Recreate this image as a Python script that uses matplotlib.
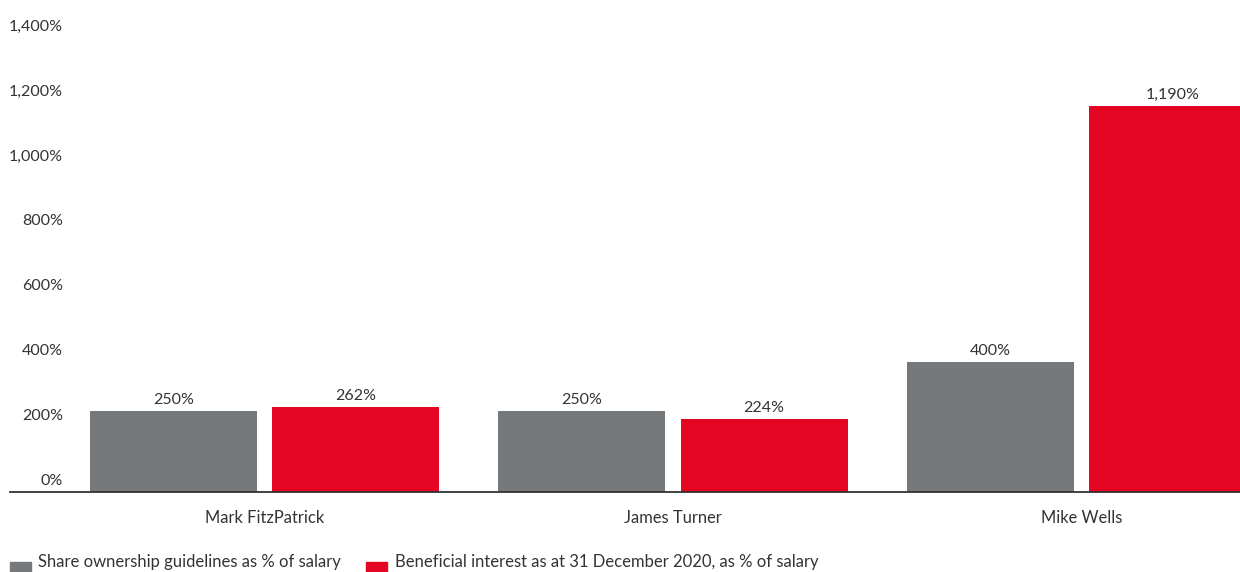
import numpy as np
import matplotlib.pyplot as plt
from matplotlib.patches import Rectangle
from matplotlib.transforms import blended_transform_factory, offset_copy

# --- Data ---
directors = ["Mark FitzPatrick", "James Turner", "Mike Wells"]
guideline_pct = [250, 250, 400]
interest_pct = [262, 224, 1190]
guideline_labels = ["250%", "250%", "400%"]
interest_labels = ["262%", "224%", "1,190%"]
y_ticks = [0, 200, 400, 600, 800, 1000, 1200, 1400]
legend_labels = ["Share ownership guidelines as % of salary",
                 "Beneficial interest as at 31 December 2020, as % of salary"]

GREY = "#75797c"
RED = "#e30521"
TEXT = "#333333"

plt.rcParams["font.family"] = ["Lato", "DejaVu Sans"]

fig = plt.figure(figsize=(12.4, 5.72), dpi=100)
ax = fig.add_axes([10 / 1240, 80 / 572, 1230 / 1240, 454 / 572])

x = np.arange(len(directors))
width = 0.409
gap = 0.037
off = (width + gap) / 2

ax.bar(x - off, guideline_pct, width, color=GREY)
ax.bar(x + off, interest_pct, width, color=RED)

# --- Value labels ---
for xi, v, lab in zip(x - off, guideline_pct, guideline_labels):
    ax.annotate(lab, (xi, v), xytext=(0, 3), textcoords="offset points",
                ha="center", va="bottom", fontsize=11.5, color=TEXT)
for xi, v, lab in zip(x + off, interest_pct, interest_labels):
    ax.annotate(lab, (xi, v), xytext=(0, 3), textcoords="offset points",
                ha="center", va="bottom", fontsize=11.5, color=TEXT)

ax.set_xlim(-0.623, 2.388)
ax.set_ylim(0, 1400)

# --- Axes styling ---
for s in ["top", "right", "left"]:
    ax.spines[s].set_visible(False)
ax.spines["bottom"].set_color(TEXT)
ax.spines["bottom"].set_linewidth(1.3)
ax.set_yticks([])
ax.set_xticks(x)
ax.set_xticklabels(directors, fontsize=11.9, color=TEXT)
ax.tick_params(axis="x", length=0, pad=13)

# y labels sit just above their values
trans = blended_transform_factory(ax.transAxes, ax.transData)
trans = offset_copy(trans, fig=fig, x=0, y=3, units="points")
for t in y_ticks:
    ax.text(53 / 1230, t, f"{t:,}%", transform=trans, ha="right", va="bottom",
            fontsize=11.5, color=TEXT, clip_on=False)

# --- Legend (drawn by hand along the bottom edge) ---
fig.patches.append(Rectangle((10 / 1240, 0), 21 / 1240, 10 / 572,
                             transform=fig.transFigure, color=GREY))
fig.text(38 / 1240, 10 / 572, legend_labels[0], ha="left", va="center",
         fontsize=12.0, color=TEXT)
fig.patches.append(Rectangle((366 / 1240, 0), 21 / 1240, 10 / 572,
                             transform=fig.transFigure, color=RED))
fig.text(395 / 1240, 10 / 572, legend_labels[1], ha="left", va="center",
         fontsize=12.0, color=TEXT)

fig.savefig("out.png", dpi=100)
plt.close(fig)
